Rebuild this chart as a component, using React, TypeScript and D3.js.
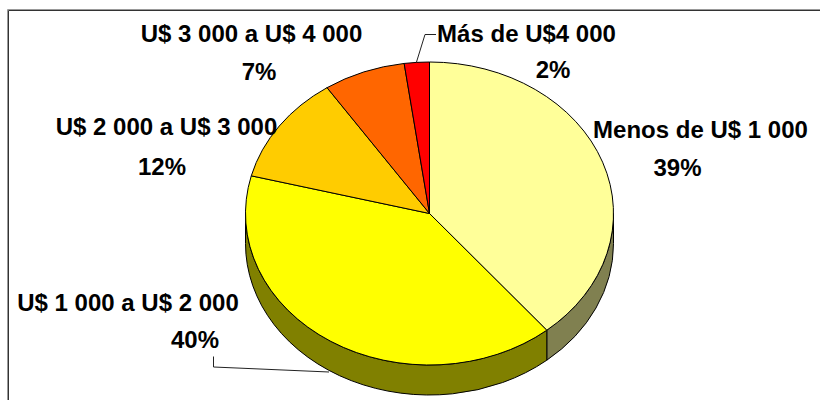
import React from "react";
import * as d3 from "d3";

const categories = ["Menos de U$ 1 000", "U$ 1 000 a U$ 2 000", "U$ 2 000 a U$ 3 000", "U$ 3 000 a U$ 4 000", "Más de U$4 000"];
const values = [39, 40, 11.6, 7.2, 2.2];
const percentLabels = ["39%", "40%", "12%", "7%", "2%"];
const topColors = ["#FFFF99", "#FFFF00", "#FFCC00", "#FF6600", "#FF0000"];
const wallColors = ["#808050", "#808000", "#806600", "#803300", "#800000"];
const labelX = [700.5, 128, 166.5, 251.5, 526.5];
const labelY = [137.5, 311, 135, 41.5, 41.5];
const pctX = [677.5, 195, 162, 259, 553];
const pctY = [176, 348, 175, 80, 78];

const cx = 429.5, cy = 213.5, rx = 184, ry = 151.5, depth = 30;
const FONT = "'Liberation Sans', Arial, sans-serif";

const px = d3.scaleLinear().domain([-1, 1]).range([cx - rx, cx + rx]);
const py = d3.scaleLinear().domain([-1, 1]).range([cy - ry, cy + ry]);
const X = (a: number) => px(Math.sin(a));
const Y = (a: number) => py(-Math.cos(a));

const arcs = d3.pie<number>().sort(null)(values);

function topPath(a0: number, a1: number) {
  const large = a1 - a0 > Math.PI ? 1 : 0;
  return `M${cx},${cy}L${X(a0)},${Y(a0)}A${rx},${ry} 0 ${large} 1 ${X(a1)},${Y(a1)}Z`;
}
function wallPath(a0: number, a1: number) {
  const s = Math.max(a0, Math.PI / 2), e = Math.min(a1, (3 * Math.PI) / 2);
  if (e <= s) return null;
  return `M${X(s)},${Y(s)}A${rx},${ry} 0 0 1 ${X(e)},${Y(e)}L${X(e)},${Y(e) + depth}A${rx},${ry} 0 0 0 ${X(s)},${Y(s) + depth}Z`;
}

const line = d3.line();
const leaders: [number, number][][] = [
  [[213.5, 356.5], [213.5, 367], [329, 372]],
  [[416.5, 62], [425, 34.5], [436, 34.5]],
];

export default function App() {
  return (
    <svg width={820} height={400} style={{ position: "absolute", left: 0, top: 0, background: "#fff" }}>
      <path d="M7.5,400V9.5H820" fill="none" stroke="#999" strokeWidth={1} />
      <path d="M8.5,400V10.5H820" fill="none" stroke="#333" strokeWidth={1} />
      {arcs.map((a, i) => {
        const d = wallPath(a.startAngle, a.endAngle);
        return d ? <path key={i} d={d} fill={wallColors[i]} stroke="#000" strokeWidth={1} /> : null;
      })}
      {arcs.map((a, i) => (
        <path key={i} d={topPath(a.startAngle, a.endAngle)} fill={topColors[i]} stroke="#000" strokeWidth={1} />
      ))}
      {leaders.map((l, i) => (
        <path key={i} d={line(l) ?? ""} fill="none" stroke="#222" strokeWidth={1} />
      ))}
      {categories.map((c, i) => (
        <g key={c} fontFamily={FONT} fontWeight="bold" fontSize={24} fill="#000" textAnchor="middle">
          <text x={labelX[i]} y={labelY[i]}>{c}</text>
          <text x={pctX[i]} y={pctY[i]}>{percentLabels[i]}</text>
        </g>
      ))}
    </svg>
  );
}
